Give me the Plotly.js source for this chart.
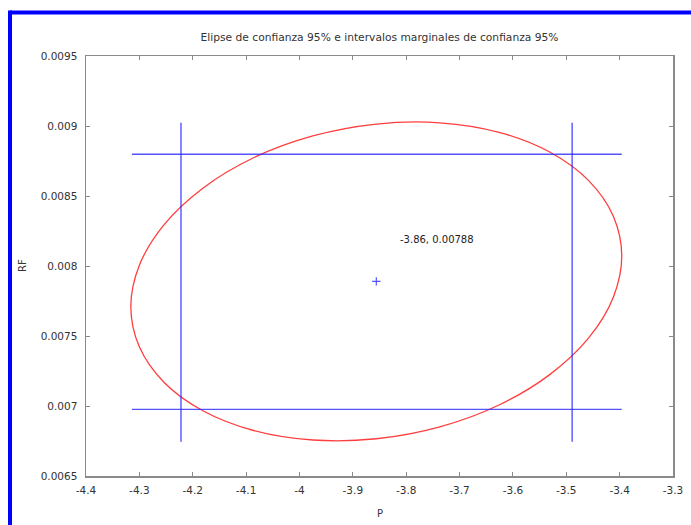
<!DOCTYPE html>
<html>
<head>
<meta charset="utf-8">
<script src="https://cdn.plot.ly/plotly-3.0.1.min.js"></script>
<style>html,body{margin:0;padding:0;background:#fff;}#chart{width:691px;height:525px;}</style>
</head>
<body>
<div id="chart"></div>
<script>
// Estimate (centre)
var centerP = [-3.856];
var centerRF = [0.00789];
var centerLabel = "-3.86, 0.00788";

// Marginal 95% intervals and drawn line spans
var pInterval = [-4.222, -3.489];
var rfInterval = [0.006976, 0.008798];
var pLineSpan = [-4.314, -3.396];
var rfLineSpan = [0.006745, 0.009024];

// 95% confidence ellipse points
var ellipseP = [-3.396, -3.412, -3.458, -3.531, -3.626, -3.737, -3.856, -3.975, -4.086, -4.181, -4.254, -4.300,
                -4.316, -4.300, -4.254, -4.181, -4.086, -3.975, -3.856, -3.737, -3.626, -3.531, -3.458, -3.412, -3.396];
var ellipseRF = [0.008072, 0.008357, 0.008610, 0.008814, 0.008955, 0.009023, 0.009014, 0.008929, 0.008773, 0.008556, 0.008294, 0.008005,
                 0.007708, 0.007423, 0.007170, 0.006966, 0.006825, 0.006757, 0.006766, 0.006851, 0.007007, 0.007224, 0.007486, 0.007775, 0.008072];

// Axis ticks
var xTickVals = [-4.4, -4.3, -4.2, -4.1, -4.0, -3.9, -3.8, -3.7, -3.6, -3.5, -3.4, -3.3];
var xTickText = ["-4.4", "-4.3", "-4.2", "-4.1", "-4", "-3.9", "-3.8", "-3.7", "-3.6", "-3.5", "-3.4", "-3.3"];
var yTickVals = [0.0065, 0.007, 0.0075, 0.008, 0.0085, 0.009, 0.0095];
var yTickText = ["0.0065", "0.007", "0.0075", "0.008", "0.0085", "0.009", "0.0095"];

var titleText = "Elipse de confianza 95% e intervalos marginales de confianza 95%";
var xTitle = "P";
var yTitle = "RF";

var FONT = "DejaVu Sans, Verdana, sans-serif";
var BLUE = "rgba(40,40,255,0.8)";

// horizontal interval lines
var hx = [], hy = [];
rfInterval.forEach(function (v) { hx.push(pLineSpan[0], pLineSpan[1], null); hy.push(v, v, null); });
// vertical interval lines
var vx = [], vy = [];
pInterval.forEach(function (v) { vx.push(v, v, null); vy.push(rfLineSpan[0], rfLineSpan[1], null); });

var traces = [
  {x: ellipseP, y: ellipseRF, type: "scatter", mode: "lines",
   line: {color: "rgba(255,40,40,0.9)", width: 1.3, shape: "spline", smoothing: 1}, hoverinfo: "skip"},
  {x: hx, y: hy, type: "scatter", mode: "lines", line: {color: BLUE, width: 1.4}, hoverinfo: "skip"},
  {x: vx, y: vy, type: "scatter", mode: "lines", line: {color: BLUE, width: 1.4}, hoverinfo: "skip"},
  {x: centerP, y: centerRF, type: "scatter", mode: "markers",
   marker: {symbol: "cross-thin", size: 6, line: {color: BLUE, width: 1.2}}, hoverinfo: "skip"}
];

var axisCommon = {
  showgrid: false, zeroline: false, showline: true, linecolor: "#8a8a8a", linewidth: 1.5,
  mirror: "ticks", ticks: "inside", ticklen: 4, tickwidth: 1, tickcolor: "#8a8a8a",
  tickfont: {family: FONT, size: 10.5, color: "#333"}, tickmode: "array", fixedrange: true
};

var layout = {
  width: 691, height: 525,
  margin: {l: 86, r: 18, t: 56, b: 49, pad: 0},
  paper_bgcolor: "#fff", plot_bgcolor: "#fff",
  showlegend: false,
  title: {text: titleText, font: {family: FONT, size: 10.7, color: "#333"},
          x: 0.5, xref: "paper", xanchor: "center", y: 1 - 37 / 525, yref: "container", yanchor: "middle"},
  xaxis: Object.assign({}, axisCommon, {range: [-4.4, -3.3], tickvals: xTickVals, ticktext: xTickText, ticklabelstandoff: 4}),
  yaxis: Object.assign({}, axisCommon, {range: [0.0065, 0.0095], tickvals: yTickVals, ticktext: yTickText, ticklabelstandoff: 5}),
  annotations: [
    {text: centerLabel, x: -3.815, y: 0.008186, xref: "x", yref: "y", xanchor: "left", yanchor: "middle",
     showarrow: false, font: {family: FONT, size: 10, color: "#222"}},
    {text: xTitle, x: 0.5, y: -37 / 420, xref: "paper", yref: "paper", xanchor: "center", yanchor: "middle",
     showarrow: false, font: {family: FONT, size: 10, color: "#333"}},
    {text: yTitle, x: -64 / 587, y: 0.5, xref: "paper", yref: "paper", xanchor: "center", yanchor: "middle",
     textangle: -90, showarrow: false, font: {family: FONT, size: 10, color: "#333"}}
  ],
  shapes: [
    {type: "line", xref: "paper", yref: "paper", x0: -76 / 587, x1: 1.2, y0: 1 + 43.5 / 420, y1: 1 + 43.5 / 420,
     line: {color: "#0000ff", width: 4}, layer: "above"},
    {type: "line", xref: "paper", yref: "paper", x0: -76 / 587, x1: -76 / 587, y0: 1 + 45.5 / 420, y1: -0.3,
     line: {color: "#0000ff", width: 4}, layer: "above"}
  ]
};

Plotly.newPlot("chart", traces, layout, {displayModeBar: false, staticPlot: true});
</script>
</body>
</html>
